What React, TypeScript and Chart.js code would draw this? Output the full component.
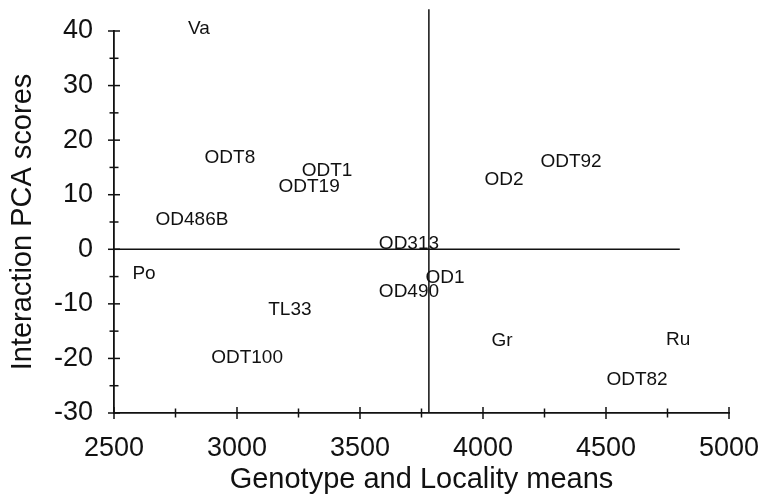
import React, { useEffect, useRef } from "react";
import { Chart, registerables } from "chart.js";

Chart.register(...registerables);

const genotypeNames = [
  "Va", "ODT8", "OD486B", "Po", "ODT100", "ODT1", "ODT19", "OD2", "ODT92",
  "OD313", "OD1", "OD490", "TL33", "Gr", "Ru", "ODT82",
];
const localityMeans = [
  2845, 2971, 2817, 2622, 3041, 3366, 3293, 4085, 4358,
  3699, 3846, 3699, 3215, 4077, 4793, 4626,
];
const pcaScores = [
  40.4, 16.7, 5.5, -4.4, -19.8, 14.3, 11.4, 12.7, 16.1,
  1.1, -5.3, -7.7, -11.0, -16.7, -16.5, -23.9,
];
const verticalRefX = 3780;
const verticalRefY = [44, -30];
const horizontalRefY = 0;
const horizontalRefX = [2500, 4800];
const xTickRange = [2500, 5000, 500];
const yTickRange = [-30, 40, 10];

const FONT = "'Liberation Sans', Arial, Helvetica, sans-serif";
const INK = "#111";

const labelPlugin = {
  id: "pointLabels",
  afterDatasetsDraw(chart: any) {
    const meta = chart.getDatasetMeta(0);
    const ctx = chart.ctx;
    ctx.save();
    ctx.font = `19px ${FONT}`;
    ctx.fillStyle = INK;
    ctx.textAlign = "center";
    ctx.textBaseline = "middle";
    meta.data.forEach((el: any, i: number) => {
      ctx.fillText(genotypeNames[i], el.x, el.y);
    });
    ctx.restore();
  },
};

const crossTickPlugin = {
  id: "crossTicks",
  afterDraw(chart: any) {
    const ctx = chart.ctx;
    const xs = chart.scales.x;
    const ys = chart.scales.y;
    const area = chart.chartArea;
    ctx.save();
    ctx.strokeStyle = INK;
    ctx.lineWidth = 1.5;
    const [x0, x1, xs0] = xTickRange;
    for (let v = x0; v <= x1 + 1e-6; v += xs0 / 2) {
      const major = Math.abs(((v - x0) / xs0) - Math.round((v - x0) / xs0)) < 1e-6;
      const len = major ? 6 : 4.5;
      const px = xs.getPixelForValue(v);
      ctx.beginPath();
      ctx.moveTo(px, area.bottom - len);
      ctx.lineTo(px, area.bottom + len);
      ctx.stroke();
    }
    const [y0, y1, ys0] = yTickRange;
    for (let v = y0; v <= y1 + 1e-6; v += ys0 / 2) {
      const major = Math.abs(((v - y0) / ys0) - Math.round((v - y0) / ys0)) < 1e-6;
      const len = major ? 6 : 4.5;
      const py = ys.getPixelForValue(v);
      ctx.beginPath();
      ctx.moveTo(area.left - len, py);
      ctx.lineTo(area.left + len, py);
      ctx.stroke();
    }
    ctx.restore();
  },
};

export default function App() {
  const ref = useRef<HTMLCanvasElement | null>(null);
  useEffect(() => {
    if (!ref.current) return;
    const chart = new Chart(ref.current, {
      type: "scatter",
      data: {
        datasets: [
          {
            label: "Genotypes",
            data: localityMeans.map((x, i) => ({ x, y: pcaScores[i] })),
            pointRadius: 0,
            pointHoverRadius: 0,
            borderColor: INK,
            backgroundColor: INK,
          },
          {
            label: "vertical",
            data: verticalRefY.map((y) => ({ x: verticalRefX, y })),
            showLine: true,
            borderColor: INK,
            borderWidth: 1.5,
            pointRadius: 0,
            clip: false as any,
          },
          {
            label: "horizontal",
            data: horizontalRefX.map((x) => ({ x, y: horizontalRefY })),
            showLine: true,
            borderColor: INK,
            borderWidth: 1.5,
            pointRadius: 0,
            clip: false as any,
          },
        ],
      },
      options: {
        animation: false,
        responsive: false,
        events: [],
        layout: { padding: { top: 31, right: 34, left: 0, bottom: 0 } },
        plugins: { legend: { display: false }, tooltip: { enabled: false } },
        scales: {
          x: {
            type: "linear",
            min: xTickRange[0],
            max: xTickRange[1],
            grid: { display: false },
            border: { display: true, color: INK, width: 1.8 },
            ticks: {
              stepSize: xTickRange[2],
              padding: 11,
              color: INK,
              font: { family: FONT, size: 27 },
              maxRotation: 0,
              callback: (v: any) => String(v),
            },
            title: {
              display: true,
              text: "Genotype and Locality means",
              color: INK,
              font: { family: FONT, size: 29 },
              padding: { top: 0, bottom: 0 },
            },
            afterFit: (s: any) => {
              s.height = 84;
              s.paddingLeft = 0;
              s.paddingRight = 0;
            },
          },
          y: {
            type: "linear",
            min: yTickRange[0],
            max: yTickRange[1],
            grid: { display: false },
            border: { display: true, color: INK, width: 1.8 },
            ticks: {
              stepSize: yTickRange[2],
              padding: 13,
              color: INK,
              font: { family: FONT, size: 27 },
              callback: (v: any) => String(v),
            },
            title: {
              display: true,
              text: "Interaction PCA scores",
              color: INK,
              font: { family: FONT, size: 29 },
              padding: { top: 6, bottom: 0 },
            },
            afterFit: (s: any) => {
              s.width = 114;
              s.paddingTop = 0;
              s.paddingBottom = 0;
            },
          },
        },
      },
      plugins: [labelPlugin, crossTickPlugin],
    });
    return () => chart.destroy();
  }, []);
  return (
    <div style={{ position: "absolute", left: 0, top: 0, width: 763, height: 497, background: "#fff" }}>
      <canvas ref={ref} width={763} height={497} style={{ display: "block" }} />
    </div>
  );
}
